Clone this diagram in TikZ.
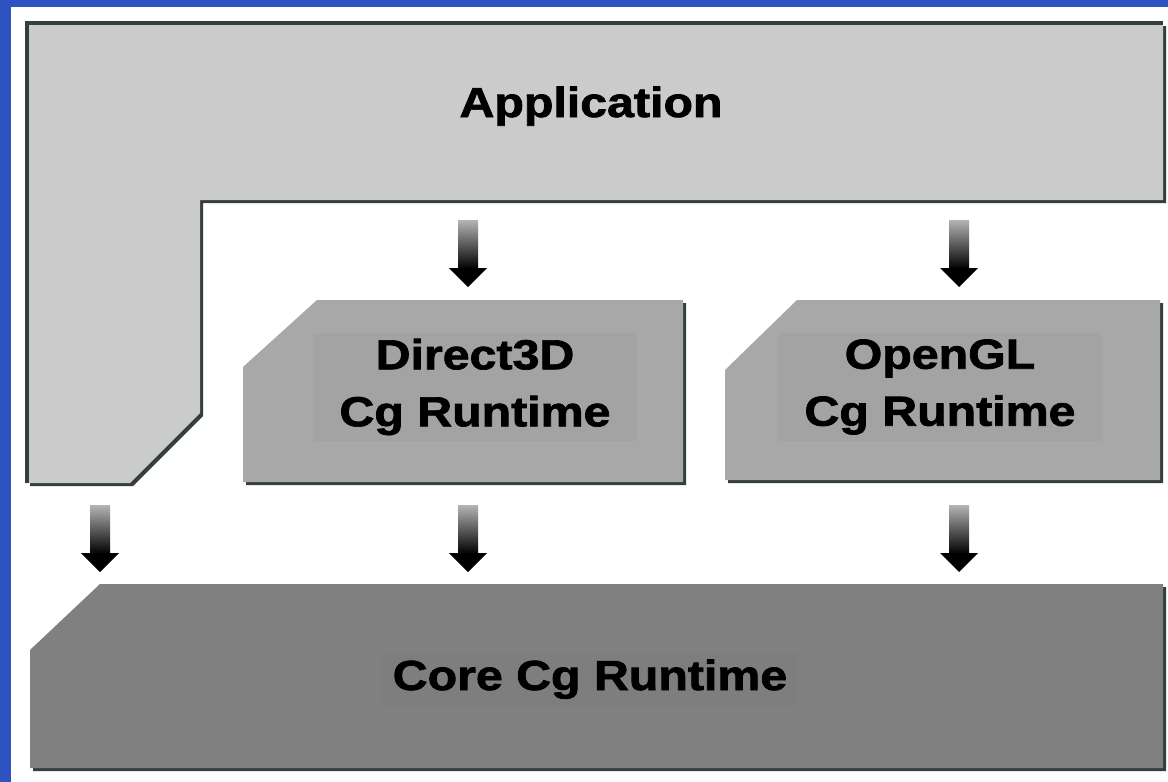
\documentclass[tikz,border=0pt]{standalone}
\usepackage{fontspec}
\setmainfont{Liberation Sans}
\newfontfamily\heavyfont[FakeBold=1.6]{Liberation Sans Bold}
\usetikzlibrary{calc}
\definecolor{frame}{HTML}{2F52C2}
\definecolor{edge}{HTML}{343E3E}
\definecolor{appgray}{HTML}{CBCBCB}
\definecolor{midgray}{HTML}{A8A8A8}
\definecolor{midtext}{HTML}{A3A3A3}
\definecolor{coregray}{HTML}{808080}
\definecolor{coretext}{HTML}{7E7E7E}
\definecolor{shaftgray}{HTML}{B4B4B4}

\begin{document}
\begin{tikzpicture}[x=1pt,y=-1pt,
  lbl/.style={font=\fontsize{42}{57}\selectfont\heavyfont,xscale=1.15,align=center,inner sep=0pt},
  dropshade/.style={preaction={fill=edge,transform canvas={shift={(3,3)}}}}]
\useasboundingbox (0,0) rectangle (1168,782);
\fill[frame] (0,0) rectangle (1168,782);
\fill[white] (11,7) rectangle (1168,782);

% layers
\fill[appgray,dropshade] (27,23) -- (1163,23) -- (1163,200) -- (200,200) -- (200,413) -- (130,483) -- (27,483) -- cycle;
\draw[edge,line width=3.5] (27,483) -- (27,23) -- (1163,23);
\fill[midgray,dropshade] (317,300) -- (683,300) -- (683,482) -- (243,482) -- (243,367) -- cycle;
\fill[midgray,dropshade] (797,300) -- (1160,300) -- (1160,480) -- (725,480) -- (725,370) -- cycle;
\fill[coregray,dropshade] (100,584) -- (1163,584) -- (1163,768) -- (30,768) -- (30,650) -- cycle;

\node[lbl,anchor=base] (app) at (591,117) {Application};
\node[lbl,fill=midtext,inner xsep=23,inner ysep=6] (d3d) at (475,387) {Direct3D\\Cg Runtime};
\node[lbl,fill=midtext,inner xsep=23,inner ysep=6] (ogl) at (940,387) {OpenGL\\Cg Runtime};
\node[lbl,anchor=base,fill=coretext,inner xsep=9,inner ysep=7] (core) at (590,690) {Core Cg Runtime};

% arrows
\foreach \i/\ax/\ay/\by in {1/468/220/287,2/959/220/287,3/100/505/572,4/468/505/572,5/959/505/572}{
  \coordinate (t\i) at (\ax,\ay);
  \coordinate (h\i) at (\ax,\by);
  \shade[top color=shaftgray,bottom color=black] ($(t\i)+(-10,0)$) rectangle ($(h\i)+(10,-18)$);
  \fill[black] ($(h\i)+(-19,-19)$) -- (h\i) -- ($(h\i)+(19,-19)$) -- cycle;
}
\end{tikzpicture}
\end{document}
